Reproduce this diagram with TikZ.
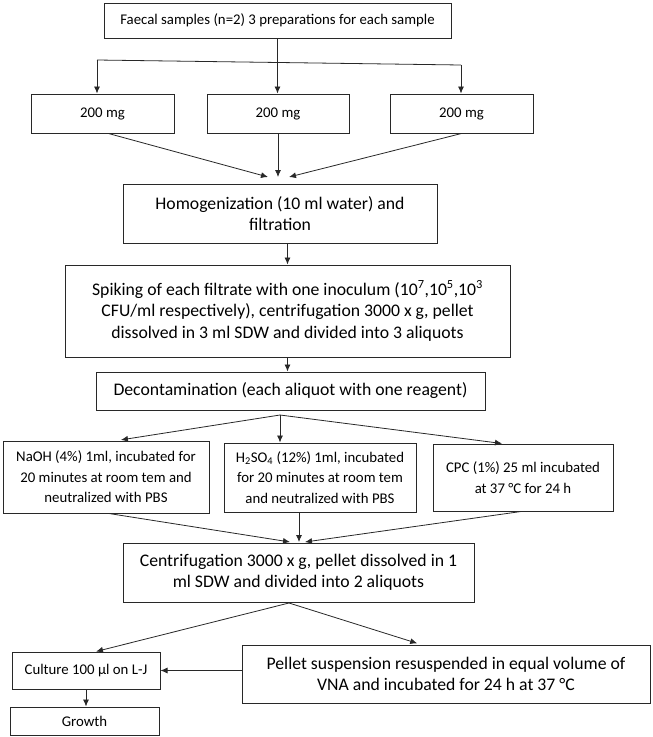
\documentclass[tikz,border=0pt]{standalone}
\usepackage{fontspec}
\setmainfont{Carlito}
\usetikzlibrary{arrows.meta}
\definecolor{lineGray}{RGB}{40, 40, 40}

\tikzset{
    stepbox/.style={draw=lineGray, line width=1pt, align=center, inner sep=0pt},
    bigtxt/.style={font=\fontsize{17.7}{21.5}\selectfont},
    smalltxt/.style={font=\fontsize{14.8}{20.5}\selectfont},
    link/.style={->, lineGray, line width=0.8pt},
    wire/.style={lineGray, line width=0.8pt}
}

\begin{document}
\begin{tikzpicture}[x=1pt, y=-1pt, >={Latex[length=7pt,width=6pt]}]
    \useasboundingbox (0,0) rectangle (653,737);

    \node[stepbox, smalltxt, minimum width=347pt, minimum height=35pt] (faecal) at (277.5,20.5)
        {Faecal samples (n=2) 3 preparations for each sample};
    \node[stepbox, smalltxt, minimum width=143pt, minimum height=39pt] (massA) at (102.5,113.5) {200 mg};
    \node[stepbox, smalltxt, minimum width=142pt, minimum height=39pt] (massB) at (278,113.5) {200 mg};
    \node[stepbox, smalltxt, minimum width=143pt, minimum height=39pt] (massC) at (461.5,113.5) {200 mg};
    \node[stepbox, bigtxt, minimum width=314pt, minimum height=59pt] (homog) at (280,213.5)
        {Homogenization (10 ml water) and\\filtration};
    \node[stepbox, bigtxt, minimum width=445pt, minimum height=92pt] (spike) at (287.5,311)
        {Spiking of each filtrate with one inoculum (10\textsuperscript{7},10\textsuperscript{5},10\textsuperscript{3}\\
         CFU/ml respectively), centrifugation 3000 x g, pellet\\
         dissolved in 3 ml SDW and divided into 3 aliquots};
    \node[stepbox, bigtxt, minimum width=389pt, minimum height=38pt] (decon) at (290.5,391)
        {Decontamination (each aliquot with one reagent)};
    \node[stepbox, smalltxt, minimum width=206pt, minimum height=72pt] (naoh) at (106,477)
        {NaOH (4\%) 1ml, incubated for\\20 minutes at room tem and\\neutralized with PBS};
    \node[stepbox, smalltxt, minimum width=192pt, minimum height=69pt] (hso) at (320,477.5)
        {H\textsubscript{2}SO\textsubscript{4} (12\%) 1ml, incubated\\for 20 minutes at room tem\\and neutralized with PBS};
    \node[stepbox, smalltxt, minimum width=180pt, minimum height=67pt] (cpc) at (523,477.5)
        {CPC (1\%) 25 ml incubated\\at 37 °C for 24 h};
    \node[stepbox, bigtxt, minimum width=351pt, minimum height=59pt] (centrif) at (298.5,572.5)
        {Centrifugation 3000 x g, pellet dissolved in 1\\ml SDW and divided into 2 aliquots};
    \node[stepbox, smalltxt, minimum width=148pt, minimum height=37pt] (culture) at (86,670.5)
        {Culture 100 µl on L-J};
    \node[stepbox, bigtxt, minimum width=408pt, minimum height=58pt] (pellet) at (446,674)
        {Pellet suspension resuspended in equal volume of\\VNA and incubated for 24 h at 37 °C};
    \node[stepbox, smalltxt, minimum width=149pt, minimum height=28pt] (growth) at (84.5,721) {Growth};

    \coordinate (forkL) at (97,60);
    \coordinate (forkR) at (461,65);
    \coordinate (hinL) at (268,177);
    \coordinate (hinM) at (278,177);
    \coordinate (hinR) at (289,177);
    \coordinate (dsplit) at (280,415);
    \coordinate (cinL) at (290,542);
    \coordinate (cinM) at (299,542);
    \coordinate (cinR) at (305,542);
    \coordinate (csplit) at (289,603);

    \draw[link] (faecal.south) -- (faecal.south |- massB.north);
    \draw[wire] (forkL) -- (forkR);
    \draw[link] (forkL) -- (forkL |- massA.north);
    \draw[link] (forkR) -- (forkR |- massC.north);

    \draw[link] ([xshift=6pt]massA.south) -- (hinL);
    \draw[link] (massB.south) -- (hinM);
    \draw[link] (massC.south) -- (hinR);

    \draw[link] (spike.north |- homog.south) -- (spike.north);
    \draw[link] (spike.south) -- (spike.south |- decon.north);

    \draw[link, shorten >=4pt] (dsplit) -- ([xshift=11pt]naoh.north);
    \draw[link] (dsplit) -- (dsplit |- hso.north);
    \draw[link] (dsplit) -- ([xshift=-21pt]cpc.north);

    \draw[link] ([xshift=3pt]naoh.south) -- (cinL);
    \draw[link] (cinM |- hso.south) -- (cinM);
    \draw[link] ([xshift=-2pt]cpc.south) -- (cinR);

    \draw[link] (csplit) -- ([xshift=10pt]culture.north);
    \draw[link, shorten >=4pt] (csplit) -- ([xshift=-25pt]pellet.north);
    \draw[link] (pellet.west |- culture.east) -- (culture.east);
    \draw[link] (culture.south) -- (culture.south |- growth.north);
\end{tikzpicture}
\end{document}
